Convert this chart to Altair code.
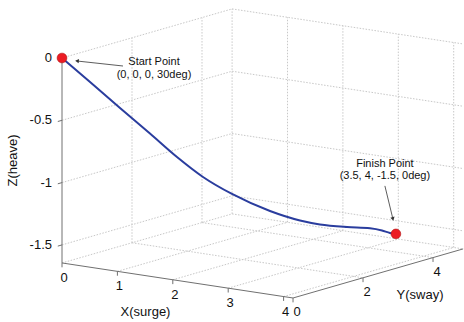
import altair as alt
import pandas as pd

# ---------------- data (3D) ----------------
traj_x = [0, 0.294, 0.608, 0.922, 1.205, 1.478, 1.782, 2.180, 2.495, 2.704, 2.988, 3.229, 3.354, 3.438, 3.5]
traj_y = [0, 0.336, 0.695, 1.054, 1.378, 1.689, 2.036, 2.492, 2.851, 3.091, 3.414, 3.690, 3.834, 3.929, 4.0]
traj_z = [0, -0.200, -0.417, -0.629, -0.825, -0.992, -1.136, -1.283, -1.367, -1.404, -1.432, -1.448, -1.469, -1.491, -1.5]

pt_names = ["Start Point", "Finish Point"]
pt_coords = ["(0, 0, 0, 30deg)", "(3.5, 4, -1.5, 0deg)"]
pt_x = [0, 3.5]
pt_y = [0, 4]
pt_z = [0, -1.5]

x_ticks = [0, 1, 2, 3, 4]
y_ticks = [0, 2, 4]
z_ticks = [-1.5, -1, -0.5, 0]
x_tick_labels = ["0", "1", "2", "3", "4"]
y_tick_labels = ["0", "2", "4"]
z_tick_labels = ["-1.5", "-1", "-0.5", "0"]
x_lim = [0, 4.17]
y_lim = [0, 4.86]
z_lim = [-1.645, 0]

# ---------------- view (orthographic projection, px per unit) ----------------
OX, OY = 62, 58
AX, AY = 55.4, 8.4     # x direction
BX, BY = 35.0, -10.1   # y direction
CZ = -124.6            # z direction
W, H = 464, 322
FONT = "Liberation Sans"

def px(xf, yf):
    return f"{OX} + {AX}*datum.{xf} + {BX}*datum.{yf}"

def py(xf, yf, zf):
    return f"{OY} + {AY}*datum.{xf} + {BY}*datum.{yf} + {CZ}*datum.{zf}"

xs = alt.Scale(domain=[0, W], range=[0, W], nice=False, zero=False)
ys = alt.Scale(domain=[0, H], range=[0, H], nice=False, zero=False)

def X(f):
    return alt.X(f"{f}:Q", scale=xs, axis=None)

def Y(f):
    return alt.Y(f"{f}:Q", scale=ys, axis=None)

# ---------------- segments: grid, axes, ticks ----------------
x0, x1 = x_lim
y0, y1 = y_lim
z0, z1 = z_lim
grid = []
for z in z_ticks:
    grid.append((x0, y0, z, x0, y1, z))
    grid.append((x0, y1, z, x1, y1, z))
for y in y_ticks[1:]:
    grid.append((x0, y, z0, x0, y, z1))
    grid.append((x0, y, z0, x1, y, z0))
for x in x_ticks[1:]:
    grid.append((x, y1, z0, x, y1, z1))
    grid.append((x, y0, z0, x, y1, z0))
grid.append((x0, y1, z0, x0, y1, z1))
grid.append((x0, y0, z0, x0, y1, z0))
grid.append((x0, y1, z0, x1, y1, z0))

axes = [
    (x0, y0, z0, x0, y0, z1),
    (x0, y0, z0, x1, y0, z0),
    (x1, y0, z0, x1, y1, z0),
]
for z in z_ticks:
    axes.append((x0, y0, z, x0, y0 - 0.12, z))
for x in x_ticks:
    axes.append((x, y0, z0, x, y0, z0 - 0.035))
for y in y_ticks:
    axes.append((x1, y, z0, x1, y, z0 - 0.035))

cols = ["xa", "ya", "za", "xb", "yb", "zb"]
grid_df = pd.DataFrame(grid, columns=cols)
axes_df = pd.DataFrame(axes, columns=cols)

def seg_layer(df, color, width, dash=None):
    kw = dict(color=color, strokeWidth=width)
    if dash:
        kw["strokeDash"] = dash
    return (
        alt.Chart(df)
        .transform_calculate(
            sx1=px("xa", "ya"), sy1=py("xa", "ya", "za"),
            sx2=px("xb", "yb"), sy2=py("xb", "yb", "zb"),
        )
        .mark_rule(**kw)
        .encode(x=X("sx1"), y=Y("sy1"), x2="sx2:Q", y2="sy2:Q")
    )

grid_layer = seg_layer(grid_df, "#c8c8c8", 1, [1.5, 1.5])
axes_layer = seg_layer(axes_df, "#707070", 1)

# ---------------- tick labels ----------------
xl_df = pd.DataFrame({"x": x_ticks, "y": [y0] * len(x_ticks), "z": [z0] * len(x_ticks), "t": x_tick_labels})
yl_df = pd.DataFrame({"x": [x1] * len(y_ticks), "y": y_ticks, "z": [z0] * len(y_ticks), "t": y_tick_labels})
zl_df = pd.DataFrame({"x": [x0] * len(z_ticks), "y": [y0] * len(z_ticks), "z": z_ticks, "t": z_tick_labels})

def text_layer(df, ox, oy, align="center", size=13, angle=None):
    kw = dict(align=align, baseline="middle", font=FONT, fontSize=size, color="#111111")
    if angle is not None:
        kw["angle"] = angle
    return (
        alt.Chart(df)
        .transform_calculate(sx=px("x", "y") + f" + {ox}", sy=py("x", "y", "z") + f" + {oy}")
        .mark_text(**kw)
        .encode(x=X("sx"), y=Y("sy"), text="t:N")
    )

xl_layer = text_layer(xl_df, 2, 15)
yl_layer = text_layer(yl_df, 4, 14)
zl_layer = text_layer(zl_df, -10, 0, align="right")

# axis titles anchored at the middle of each axis
xt_df = pd.DataFrame({"x": [(x0 + x1) / 2], "y": [y0], "z": [z0], "t": ["X(surge)"]})
yt_df = pd.DataFrame({"x": [x1], "y": [(y0 + y1) / 2], "z": [z0], "t": ["Y(sway)"]})
zt_df = pd.DataFrame({"x": [x0], "y": [y0], "z": [(z0 + z1) / 2], "t": ["Z(heave)"]})
xt_layer = text_layer(xt_df, -32, 32)
yt_layer = text_layer(yt_df, 42, 22)
zt_layer = text_layer(zt_df, -49, 0, angle=270)

# ---------------- trajectory ----------------
traj_df = pd.DataFrame({"i": list(range(len(traj_x))), "x": traj_x, "y": traj_y, "z": traj_z})
traj_layer = (
    alt.Chart(traj_df)
    .transform_calculate(sx=px("x", "y"), sy=py("x", "y", "z"))
    .mark_line(color="#2a3d9e", strokeWidth=2, interpolate="monotone")
    .encode(x=X("sx"), y=Y("sy"), order="i:Q")
)

pts_df = pd.DataFrame({"x": pt_x, "y": pt_y, "z": pt_z, "name": pt_names, "coord": pt_coords,
                       "tdx": [92, -11], "tdy": [4, -70],
                       "adx1": [61, -11], "ady1": [8, -48],
                       "adx2": [15, -3], "ady2": [3, -15],
                       "ang": [6, 346], "shape": ["triangle-left", "triangle-down"]})

pts_base = alt.Chart(pts_df).transform_calculate(sx=px("x", "y"), sy=py("x", "y", "z"))
dots_layer = pts_base.mark_circle(size=95, color="#ec1c24", opacity=1, stroke="#b01010", strokeWidth=0.6).encode(
    x=X("sx"), y=Y("sy"))

ann_base = pts_base.transform_calculate(
    tx="datum.sx + datum.tdx", ty="datum.sy + datum.tdy", ty2="datum.sy + datum.tdy + 12.5",
    ax1="datum.sx + datum.adx1", ay1="datum.sy + datum.ady1",
    ax2="datum.sx + datum.adx2", ay2="datum.sy + datum.ady2",
)
ann_text1 = ann_base.mark_text(font=FONT, fontSize=11, color="#111111", align="center", baseline="middle").encode(
    x=X("tx"), y=Y("ty"), text="name:N")
ann_text2 = ann_base.mark_text(font=FONT, fontSize=11, color="#111111", align="center", baseline="middle").encode(
    x=X("tx"), y=Y("ty2"), text="coord:N")
ann_line = ann_base.mark_rule(color="#333333", strokeWidth=0.8).encode(
    x=X("ax1"), y=Y("ay1"), x2="ax2:Q", y2="ay2:Q")
ann_head = ann_base.mark_point(filled=True, size=18, color="#333333", opacity=1).encode(
    x=X("ax2"), y=Y("ay2"),
    shape=alt.Shape("shape:N", scale=None, legend=None),
    angle=alt.Angle("ang:Q", scale=None, legend=None))

chart = alt.layer(
    grid_layer, axes_layer, xl_layer, yl_layer, zl_layer, xt_layer, yt_layer, zt_layer,
    traj_layer, dots_layer, ann_line, ann_head, ann_text1, ann_text2,
).properties(
    width=W, height=H, padding=0, autosize=alt.AutoSizeParams(type="none"),
    background="white",
).configure_view(stroke=None)

chart.save("out.html", embed_options={"renderer": "svg", "actions": False})
